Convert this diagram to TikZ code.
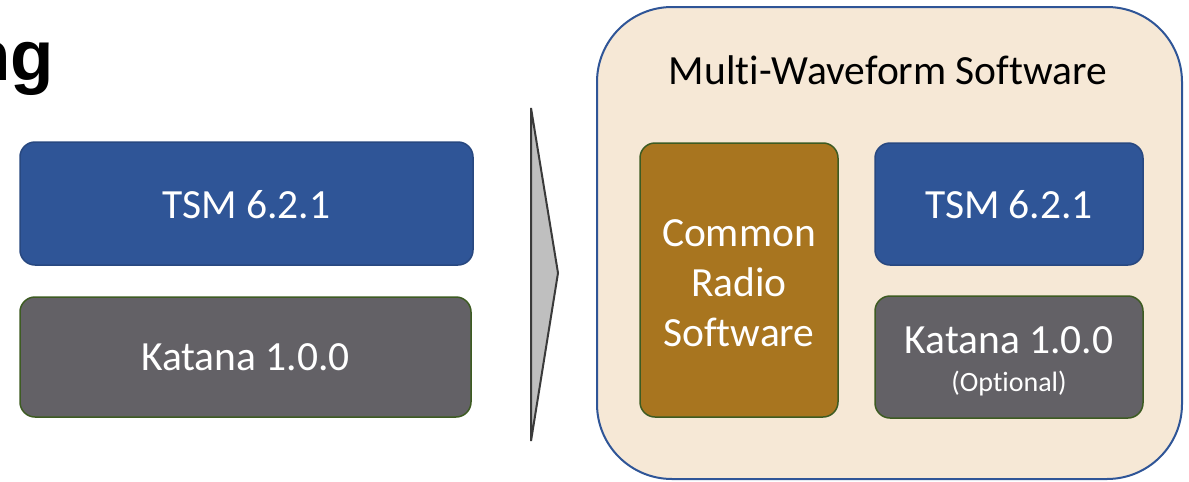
\documentclass[tikz,border=0pt]{standalone}
\usepackage{fontspec}
\setmainfont{Carlito}[Ligatures={NoCommon}]
\newfontfamily\arialfont{Liberation Sans}
\definecolor{tsmblue}{HTML}{2F5597}
\definecolor{katgray}{HTML}{636166}
\definecolor{crsbrown}{HTML}{A8751F}
\definecolor{boxgreen}{HTML}{3D5B22}
\definecolor{beige}{HTML}{F6E8D6}
\definecolor{chevgray}{HTML}{BFBFBF}
\definecolor{chevline}{HTML}{3A3A3A}
\tikzset{
  blk/.style={rounded corners=15pt, line width=1.5pt, text=white, align=center, inner sep=0pt},
  tsmbox/.style={blk, fill=tsmblue, draw=tsmblue!85!black},
  katbox/.style={blk, fill=katgray, draw=boxgreen},
  crsbox/.style={blk, fill=crsbrown, draw=boxgreen},
  lbl/.style={font=\fontsize{41.5}{50}\selectfont}
}
\begin{document}
\begin{tikzpicture}[x=1pt,y=-1pt]
\useasboundingbox (0,0) rectangle (1189,482);
% title fragment
\node[anchor=base east, inner sep=0pt, font=\arialfont\bfseries\fontsize{71}{71}\selectfont] (title) at (54,80) {ng};
% left boxes
\path[tsmbox] (20,142) rectangle (473,265);
\node[lbl, text=white] (tsmL) at (246.5,205) {TSM 6.2.1};
\path[katbox] (20,297) rectangle (471,417);
\node[lbl, text=white] (katL) at (245.5,357) {Katana 1.0.0};
% chevron
\draw[fill=chevgray, draw=chevline, line width=2pt, line join=miter] (531,108) -- (558,273) -- (531,441) -- cycle;
% big container
\draw[fill=beige, draw=tsmblue, line width=2pt, rounded corners=75pt] (597,7) rectangle (1182,479);
\node[lbl] (mws) at (888,70) {Multi-Waveform Software};
% inner boxes
\path[crsbox] (640,143) rectangle (838,417);
\node[lbl, text=white, align=center] (crs) at (739,283) {Common\\Radio\\Software};
\path[tsmbox] (875,143) rectangle (1143,265);
\node[lbl, text=white] (tsmR) at (1009,205) {TSM 6.2.1};
\path[katbox] (875,296) rectangle (1143,418);
\node[lbl, text=white] (katR) at (1009,340) {Katana 1.0.0};
\node[text=white, font=\fontsize{28}{30}\selectfont] (opt) at (1009,384) {(Optional)};
\end{tikzpicture}
\end{document}
